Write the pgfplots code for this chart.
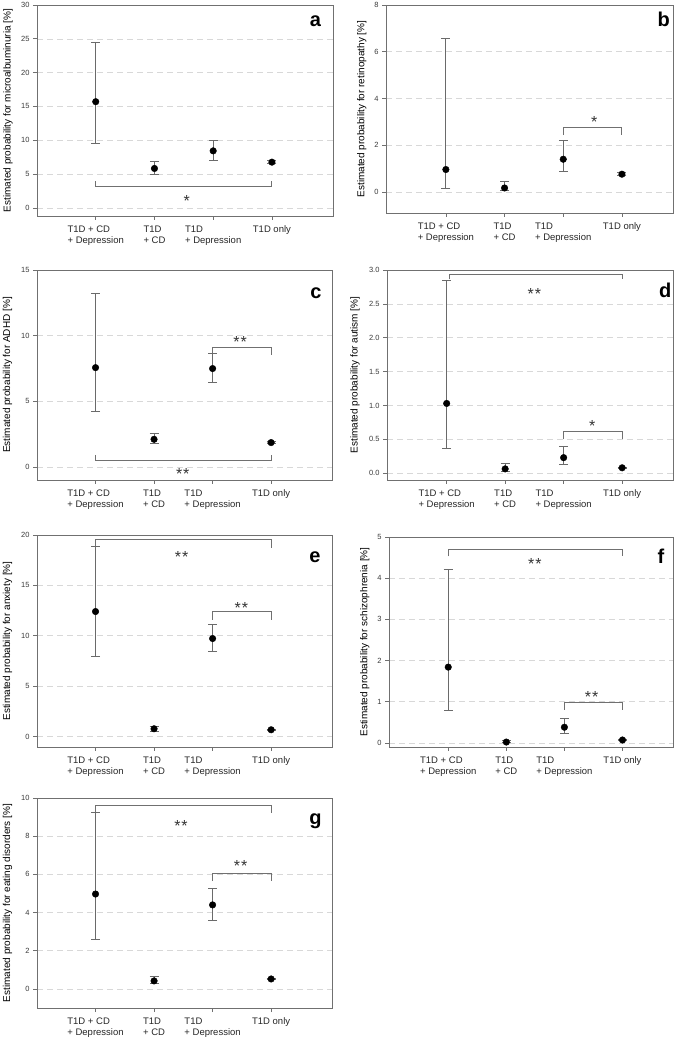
\documentclass[border=0pt]{standalone}
\usepackage{pgfplots}
\usepackage{pgfplotstable}
\pgfplotsset{compat=1.18}
\usepackage{fontspec}
\setmainfont{Liberation Sans}
\definecolor{axisc}{HTML}{707070}
\definecolor{gridc}{HTML}{D8D8D8}
\definecolor{errc}{HTML}{6A6A6A}
\definecolor{ticktxt}{HTML}{3A3A3A}
\definecolor{labtxt}{HTML}{262626}
\definecolor{startxt}{HTML}{333333}

\pgfplotstableread{
x y ep em
1 15.7 8.8 6.2
2 5.83 1.03 0.83
3 8.43 1.52 1.37
4 6.76 0.2 0.2
}\dataA
\pgfplotstableread{
x y ep em
1 0.96 5.61 0.82
2 0.17 0.29 0.10
3 1.40 0.79 0.51
4 0.76 0.06 0.06
}\dataB
\pgfplotstableread{
x y ep em
1 7.56 5.64 3.35
2 2.10 0.44 0.32
3 7.49 1.19 1.07
4 1.85 0.10 0.10
}\dataC
\pgfplotstableread{
x y ep em
1 1.03 1.81 0.66
2 0.064 0.076 0.034
3 0.23 0.16 0.10
4 0.08 0.01 0.01
}\dataD
\pgfplotstableread{
x y ep em
1 12.4 6.44 4.44
2 0.76 0.24 0.23
3 9.72 1.42 1.26
4 0.66 0.05 0.05
}\dataE
\pgfplotstableread{
x y ep em
1 1.84 2.37 1.05
2 0.02 0.03 0.02
3 0.38 0.22 0.14
4 0.07 0.01 0.01
}\dataF
\pgfplotstableread{
x y ep em
1 4.97 4.28 2.37
2 0.42 0.23 0.14
3 4.40 0.89 0.79
4 0.52 0.03 0.03
}\dataG

\pgfplotsset{
  panel/.style={
    scale only axis,
    xtick={1,2,3,4},
    xticklabels={{T1D + CD\\+ Depression},{T1D\\+ CD},{T1D\\+ Depression},{T1D only}},
    xticklabel style={align=left, font=\fontsize{9.5}{11.4}\selectfont, text=labtxt, yshift=-2pt},
    yticklabel style={font=\fontsize{7.5}{9}\selectfont, text=ticktxt},
    /pgf/number format/assume math mode=true,
    ylabel style={font=\fontsize{8.5}{10}\selectfont, text=labtxt},
    every axis y label/.style={at={(axis description cs:#1,0.5)},rotate=90,anchor=center},
    axis line style={draw=axisc, line width=0.9pt},
    tick style={draw=axisc, line width=0.7pt},
    tick align=outside, major tick length=4pt,
    tick pos=left,
    ymajorgrids,
    grid style={draw=gridc, dash pattern=on 6pt off 4pt, line width=0.6pt},
    clip=false,
  },
  leftcol/.style={xmin=0, xmax=5.04},
  rightcol/.style={xmin=-0.02, xmax=4.87},
  pts/.style={only marks, mark=*, mark size=3.3pt, mark options={fill=black, draw=black},
    error bars/.cd, y dir=both, y explicit,
    error bar style={draw=errc, line width=0.8pt},
    error mark options={rotate=90, draw=errc, mark size=4.5pt, line width=0.8pt}},
  brk/.style={draw=axisc, line width=0.9pt, mark=none},
}
\tikzset{
  star/.style={font=\fontsize{16}{16}\selectfont, text=startxt, anchor=center, inner sep=0pt, yshift=-3.4pt},
  plab/.style={font=\fontsize{20}{20}\selectfont\bfseries, text=black, anchor=base east, inner sep=0pt},
}

\begin{document}
\begin{tikzpicture}
\useasboundingbox (0,0) rectangle (685pt,1041pt);

% a
\begin{axis}[panel=-0.098, leftcol, at={(37pt,825pt)}, anchor=south west, width=296pt, height=211pt,
  ymin=-1.2, ymax=30, ytick={0,5,...,30},
  ylabel={Estimated probability for microalbuminuria [\%]}]
\addplot[brk] coordinates {(1,3.95) (1,3.2) (4,3.2) (4,3.95)};
\addplot[pts] table[x=x,y=y,y error plus=ep,y error minus=em] {\dataA};
\node[star] at (axis cs:2.55,1.5) {*};
\node[plab] at (rel axis cs:0.96,0.897) {a};
\end{axis}

% b
\begin{axis}[panel=-0.084, rightcol, at={(386pt,828pt)}, anchor=south west, width=287pt, height=208pt,
  ymin=-0.9, ymax=8, ytick={0,2,...,8},
  ylabel={Estimated probability for retinopathy [\%]}]
\addplot[brk] coordinates {(3,2.43) (3,2.77) (4,2.77) (4,2.43)};
\addplot[pts] table[x=x,y=y,y error plus=ep,y error minus=em] {\dataB};
\node[star] at (axis cs:3.53,3.14) {*};
\node[plab] at (rel axis cs:0.99,0.895) {b};
\end{axis}

% c
\begin{axis}[panel=-0.1, leftcol, at={(37pt,561pt)}, anchor=south west, width=295pt, height=210pt,
  ymin=-1, ymax=15, ytick={0,5,10,15},
  ylabel={Estimated probability for ADHD [\%]}]
\addplot[brk] coordinates {(3,8.53) (3,9.09) (4,9.09) (4,8.53)};
\addplot[brk] coordinates {(1,0.91) (1,0.48) (4,0.48) (4,0.91)};
\addplot[pts] table[x=x,y=y,y error plus=ep,y error minus=em] {\dataC};
\node[star] at (axis cs:3.47,9.75) {*\kern1pt*};
\node[star] at (axis cs:2.49,-0.28) {*\kern1pt*};
\node[plab] at (rel axis cs:0.965,0.865) {c};
\end{axis}

% d
\begin{axis}[panel=-0.112, rightcol, at={(387pt,561pt)}, anchor=south west, width=286pt, height=210pt,
  ymin=-0.1, ymax=3, ytick={0,0.5,...,3.0},
  yticklabel style={/pgf/number format/.cd, fixed, fixed zerofill, precision=1},
  ylabel={Estimated probability for autism [\%]}]
\addplot[brk] coordinates {(1.05,2.86) (1.05,2.93) (4,2.93) (4,2.86)};
\addplot[brk] coordinates {(3,0.50) (3,0.61) (4,0.61) (4,0.50)};
\addplot[pts] table[x=x,y=y,y error plus=ep,y error minus=em] {\dataD};
\node[star] at (axis cs:2.5,2.69) {*\kern1pt*};
\node[star] at (axis cs:3.49,0.74) {*};
\node[plab] at (rel axis cs:0.995,0.868) {d};
\end{axis}

% e
\begin{axis}[panel=-0.1, leftcol, at={(37pt,294pt)}, anchor=south west, width=295pt, height=212pt,
  ymin=-1.05, ymax=20, ytick={0,5,...,20},
  ylabel={Estimated probability for anxiety [\%]}]
\addplot[brk] coordinates {(1,18.74) (1,19.57) (4,19.57) (4,18.74)};
\addplot[brk] coordinates {(3,11.6) (3,12.37) (4,12.37) (4,11.6)};
\addplot[pts] table[x=x,y=y,y error plus=ep,y error minus=em] {\dataE};
\node[star] at (axis cs:2.47,18.2) {*\kern1pt*};
\node[star] at (axis cs:3.49,13.1) {*\kern1pt*};
\node[plab] at (rel axis cs:0.962,0.87) {e};
\end{axis}

% f
\begin{axis}[panel=-0.085, rightcol, at={(389pt,294pt)}, anchor=south west, width=284pt, height=210pt,
  ymin=-0.1, ymax=5, ytick={0,1,...,5},
  ylabel={Estimated probability for schizophrenia [\%]}]
\addplot[brk] coordinates {(1,4.53) (1,4.70) (4,4.70) (4,4.53)};
\addplot[brk] coordinates {(3,0.81) (3,0.98) (4,0.98) (4,0.81)};
\addplot[pts] table[x=x,y=y,y error plus=ep,y error minus=em] {\dataF};
\node[star] at (axis cs:2.49,4.43) {*\kern1pt*};
\node[star] at (axis cs:3.47,1.19) {*\kern1pt*};
\node[plab] at (rel axis cs:0.97,0.873) {f};
\end{axis}

% g
\begin{axis}[panel=-0.1, leftcol, at={(37pt,33pt)}, anchor=south west, width=295pt, height=210pt,
  ymin=-1, ymax=10, ytick={0,2,...,10},
  ylabel={Estimated probability for eating disorders [\%]}]
\addplot[brk] coordinates {(1,9.21) (1,9.62) (4,9.62) (4,9.21)};
\addplot[brk] coordinates {(3,5.64) (3,6.04) (4,6.04) (4,5.64)};
\addplot[pts] table[x=x,y=y,y error plus=ep,y error minus=em] {\dataG};
\node[star] at (axis cs:2.46,8.73) {*\kern1pt*};
\node[star] at (axis cs:3.48,6.6) {*\kern1pt*};
\node[plab] at (rel axis cs:0.965,0.873) {g};
\end{axis}
\end{tikzpicture}
\end{document}
